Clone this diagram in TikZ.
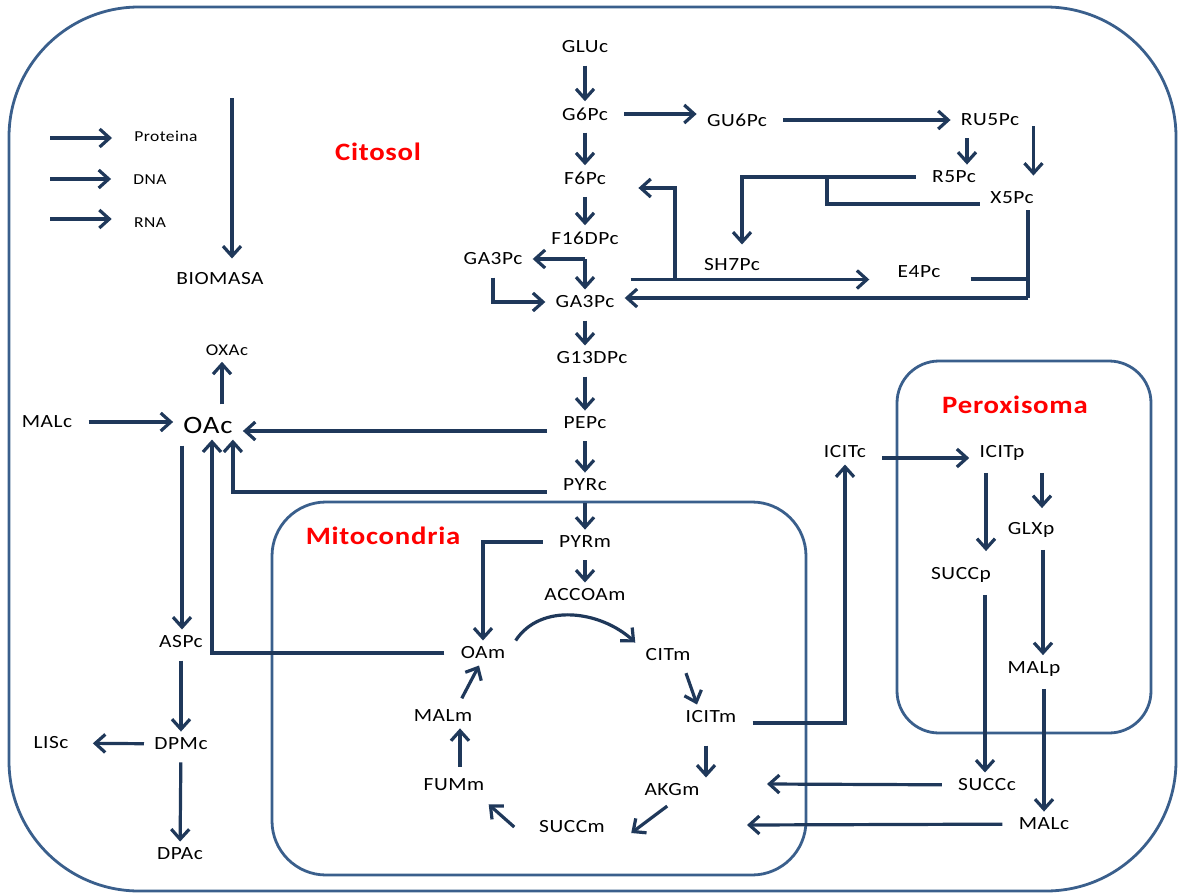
\documentclass[tikz,border=0pt]{standalone}
\usepackage{fontspec}
\setmainfont{Carlito}[FakeStretch=1.15,LetterSpace=3]
\usetikzlibrary{arrows.meta}
\definecolor{boxblue}{RGB}{58,95,140}
\definecolor{flowblue}{RGB}{31,56,90}
\newcommand{\metsize}{\fontsize{9.3pt}{11pt}\selectfont}
\newcommand{\minisize}{\fontsize{7.6pt}{9pt}\selectfont}
\newcommand{\oasize}{\fontsize{12.5pt}{14pt}\selectfont}
\newcommand{\compsize}{\bfseries\fontsize{12.5pt}{14pt}\selectfont}
\begin{document}
\begin{tikzpicture}[x = 0.5pt, y = -0.5pt,
  every node/.style = {inner xsep = 5pt, inner ysep = 3pt, font = \metsize},
  link/.style = {draw = flowblue, line width = 1.6pt},
  branch/.style = {link, -{Straight Barb[length = 5pt, width = 9pt]}},
  flux/.style = {branch, shorten <= 3pt},
  wall/.style = {draw = boxblue, line width = 1.4pt},
  compname/.style = {text = red, font = \compsize},
  minor/.style = {font = \minisize}]
\useasboundingbox (0,0) rectangle (1178,894);
\draw[wall, rounded corners = 65pt] (9,7) rectangle (1176,891);
\draw[wall, rounded corners = 27pt] (272,502) rectangle (806,875);
\draw[wall, rounded corners = 21pt] (897,361) rectangle (1151,733);
\node[compname] at (378,152) (cito) {Citosol};
\node[compname] at (383,536) (mito) {Mitocondria};
\node[compname] at (1015,405) (perox) {Peroxisoma};
\node at (585,47) (gluc) {GLUc};
\node at (585,114) (g6pc) {G6Pc};
\node at (737,120) (gu6pc) {GU6Pc};
\node at (990,120) (ru5pc) {RU5Pc};
\node at (585,178) (f6pc) {F6Pc};
\node at (954,177) (r5pc) {R5Pc};
\node at (1012,198) (x5pc) {X5Pc};
\node at (585,238) (f16dpc) {F16DPc};
\node at (493,259) (ga3pl) {GA3Pc};
\node at (732,265) (sh7pc) {SH7Pc};
\node at (919,272) (e4pc) {E4Pc};
\node at (585,302) (ga3pc) {GA3Pc};
\node at (592,358) (g13dpc) {G13DPc};
\node at (585,423) (pepc) {PEPc};
\node at (585,485) (pyrc) {PYRc};
\node at (585,542) (pyrm) {PYRm};
\node at (585,595) (accoam) {ACCOAm};
\node at (483,653) (oam) {OAm};
\node at (668,655) (citm) {CITm};
\node at (711,717) (icitm) {ICITm};
\node at (443,716) (malm) {MALm};
\node at (454,785) (fumm) {FUMm};
\node at (672,790) (akgm) {AKGm};
\node at (572,827) (succm) {SUCCm};
\node at (845,452) (icitc) {ICITc};
\node at (1002,453) (icitp) {ICITp};
\node at (1031,530) (glxp) {GLXp};
\node at (961,575) (succp) {SUCCp};
\node at (1034,669) (malp) {MALp};
\node at (987,785) (succc) {SUCCc};
\node at (1044,824) (malcr) {MALc};
\node at (47,422) (malcl) {MALc};
\node[font = \oasize] at (208,425) (oac) {OAc};
\node[font = \fontsize{8.2pt}{10pt}\selectfont] at (227,350) (oxac) {OXAc};
\node at (181,642) (aspc) {ASPc};
\node at (181,744) (dpmc) {DPMc};
\node at (51,743) (lisc) {LISc};
\node at (180,854) (dpac) {DPAc};
\node[minor] at (166,136) (prot) {Proteina};
\node[minor] at (150,180) (dna) {DNA};
\node[minor] at (150,223) (rna) {RNA};
\node at (220,279) (bio) {BIOMASA};
\coordinate (protin) at (50,138);
\coordinate (dnain) at (50,179);
\coordinate (rnain) at (50,219);
\coordinate (bioin) at (232,98);
\coordinate (fork) at (585,259);
\coordinate (xjoin) at (827,177);
\coordinate (tkjoin) at (675,279);
\coordinate (tkright) at (1028,298);
\coordinate (succin) at (767,784);
\coordinate (malin) at (747,825);
\draw[branch, shorten >= 6pt] (protin) -- (protin -| prot.west);
\draw[branch, shorten >= 6pt] (dnain) -- (dnain -| dna.west);
\draw[branch, shorten >= 6pt] (rnain) -- (rnain -| rna.west);
\draw[branch, shorten >= 4pt] (bioin) -- (bioin |- bio.north);
\draw[flux] (gluc) -- (g6pc);
\draw[flux] (g6pc) -- (f6pc);
\draw[flux] (f6pc) -- (f16dpc);
\draw[flux] (g6pc) -- (g6pc -| gu6pc.west);
\draw[flux] (gu6pc) -- (gu6pc -| ru5pc.west);
\draw[flux] ([xshift = -11.5pt]ru5pc.south) -- ([xshift = -11.5pt]ru5pc.south |- r5pc.north);
\draw[flux, shorten >= 5pt] ([xshift = 2pt]ru5pc.east) -- ([xshift = 2pt]ru5pc.east |- x5pc.north);
\draw[flux, shorten >= 4pt] (r5pc) -| ([xshift = 5pt]sh7pc.north);
\draw[link] ([yshift = -3pt]x5pc.west) -| (xjoin);
\draw[branch] (fork) -- (ga3pl);
\draw[branch] (fork) -- (ga3pc);
\draw[flux] (ga3pl) |- (ga3pc);
\draw[flux, shorten >= 9pt] ([yshift = 5pt]ga3pc.north east) -- ([yshift = 5pt]ga3pc.north east -| e4pc.west);
\draw[branch, shorten >= 11pt] (tkjoin) |- ([yshift = -5pt]f6pc.east);
\draw[link, shorten <= 10pt] ([yshift = -3.5pt]e4pc.east) -- ([yshift = -3.5pt]e4pc.east -| tkright);
\draw[link] (x5pc.south -| tkright) -- (tkright);
\draw[branch] (tkright) -- (tkright -| ga3pc.east);
\draw[flux] (ga3pc) -- (ga3pc |- g13dpc.north);
\draw[flux] (g13dpc.south -| pepc) -- (pepc);
\draw[flux] (pepc) -- (pyrc);
\draw[flux] (pyrc) -- (pyrm);
\draw[flux] (pyrm) -- (accoam);
\draw[flux] ([yshift = -4pt]pepc.west) -- ([yshift = -4pt]pepc.west -| oac.east);
\draw[flux] ([yshift = -3.5pt]pyrc.west) -| ([xshift = -5pt]oac.south east);
\draw[flux] (pyrm) -| (oam);
\draw[flux] (oam) -| ([xshift = 2pt]oac.south);
\draw[flux] (malcl) -- (malcl -| oac.west);
\draw[flux] ([xshift = 7pt]oac.north) -- ([xshift = 7pt]oac.north |- oxac.south);
\draw[flux] ([xshift = -13pt]oac.south) -- ([xshift = -13pt]oac.south |- aspc.north);
\draw[flux] (aspc) -- (dpmc);
\draw[branch, shorten >= 7pt] (dpmc) -- (lisc);
\draw[flux] (dpmc) -- (dpac);
\draw[branch] (oam.north east) .. controls +(25,-38) and +(-35,-32) .. (citm.north west);
\draw[flux] ([xshift = 8pt]citm.south) -- ([xshift = -7pt]icitm.north);
\draw[flux, shorten <= 8pt] ([xshift = -2.5pt]icitm.south) -- ([xshift = -2.5pt]icitm.south |- akgm.north);
\draw[flux] (akgm.south) -- ([xshift = 8pt, yshift = -3pt]succm.east);
\draw[flux] ([xshift = -5pt, yshift = -2pt]succm.west) -- ([xshift = -3pt, yshift = -3.5pt]fumm.south east);
\draw[flux] ([xshift = 3pt]fumm.north) -- ([xshift = 3pt]fumm.north |- malm.south);
\draw[flux] ([xshift = 8pt]malm.north) -- ([xshift = -2pt]oam.south);
\draw[flux] ([yshift = -3pt]icitm.east) -| (icitc);
\draw[flux] ([yshift = -3pt]icitc.east) -- ([yshift = -3pt]icitc.east -| icitp.west);
\draw[flux, shorten >= 5pt] ([xshift = -8pt]icitp.south) -- ([xshift = -8pt]icitp.south |- succp.north);
\draw[flux, shorten >= 4pt] ([xshift = 20pt]icitp.south) -- ([xshift = 20pt]icitp.south |- glxp.north);
\draw[flux] ([xshift = 6pt]glxp.south) -- ([xshift = 6pt]glxp.south |- malp.north);
\draw[flux] ([xshift = 12pt]succp.south) -- ([xshift = 12pt]succp.south |- succc.north);
\draw[flux] ([xshift = 5pt]malp.south) -- ([xshift = 5pt]malp.south |- malcr.north);
\draw[flux] (succc) -- (succin);
\draw[flux] (malcr) -- (malin);
\end{tikzpicture}
\end{document}
